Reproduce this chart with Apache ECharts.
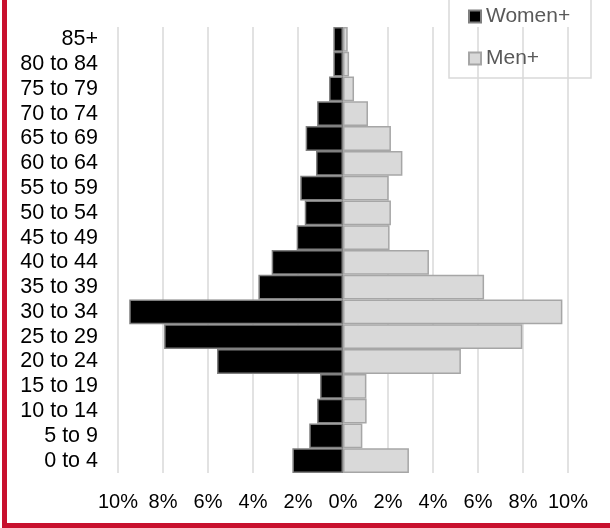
<!DOCTYPE html>
<html>
<head>
<meta charset="utf-8">
<script src="https://cdn.jsdelivr.net/npm/echarts@6/dist/echarts.min.js"></script>
<style>
html,body{margin:0;padding:0;background:#fff;}
#chart{width:610px;height:528px;}
</style>
</head>
<body>
<div id="chart"></div>
<script>
const categories = ["0 to 4","5 to 9","10 to 14","15 to 19","20 to 24","25 to 29","30 to 34","35 to 39","40 to 44","45 to 49","50 to 54","55 to 59","60 to 64","65 to 69","70 to 74","75 to 79","80 to 84","85+"];
const women = [2.25,1.5,1.15,1.02,5.6,7.95,9.5,3.76,3.17,2.06,1.7,1.9,1.2,1.66,1.15,0.62,0.43,0.43];
const men = [2.93,0.86,1.05,1.04,5.24,7.97,9.75,6.27,3.82,2.07,2.13,2.03,2.64,2.13,1.11,0.49,0.27,0.21];
const tickMin = -10, tickMax = 10, tickStep = 2;

const chart = echarts.init(document.getElementById('chart'));
chart.setOption({
  animation: false,
  backgroundColor: '#ffffff',
  textStyle: { fontFamily: 'Liberation Sans, Arial, sans-serif' },
  grid: { left: 118, right: 42, top: 27, bottom: 55 },
  legend: {
    orient: 'vertical',
    left: 468, top: 6,
    padding: 0,
    itemGap: 21,
    itemWidth: 12, itemHeight: 12,
    icon: 'rect',
    textStyle: { fontSize: 21, color: '#595959', fontFamily: 'Liberation Sans, Arial, sans-serif' },
    data: ['Women+', 'Men+']
  },
  xAxis: {
    type: 'value',
    min: tickMin, max: tickMax, interval: tickStep,
    axisLine: { show: false },
    axisTick: { show: false },
    splitLine: { show: true, lineStyle: { color: '#d9d9d9', width: 1.5 } },
    axisLabel: {
      fontSize: 20, color: '#000', margin: 19,
      formatter: v => Math.abs(v) + '%'
    }
  },
  yAxis: {
    type: 'category',
    data: categories,
    axisLine: { show: false },
    axisTick: { show: false },
    axisLabel: { fontSize: 21.5, color: '#000', margin: 20, interval: 0 }
  },
  series: [
    {
      name: 'Women+', type: 'bar', stack: 'pop',
      barCategoryGap: '0%',
      data: women.map(v => -v),
      itemStyle: { color: '#000000', borderColor: '#7f7f7f', borderWidth: 1.5 }
    },
    {
      name: 'Men+', type: 'bar', stack: 'pop',
      barCategoryGap: '0%',
      data: men,
      itemStyle: { color: '#d9d9d9', borderColor: '#a6a6a6', borderWidth: 1.5 }
    }
  ],
  graphic: [
    { type: 'rect', shape: { x: 449, y: -10, width: 142, height: 88 }, style: { fill: 'none', stroke: '#d9d9d9', lineWidth: 1.5 }, z: -1 },
    { type: 'rect', shape: { x: 2, y: 0, width: 5, height: 528 }, style: { fill: '#c8102e' } },
    { type: 'rect', shape: { x: 2, y: 523, width: 608, height: 5 }, style: { fill: '#c8102e' } }
  ]
});
</script>
</body>
</html>
